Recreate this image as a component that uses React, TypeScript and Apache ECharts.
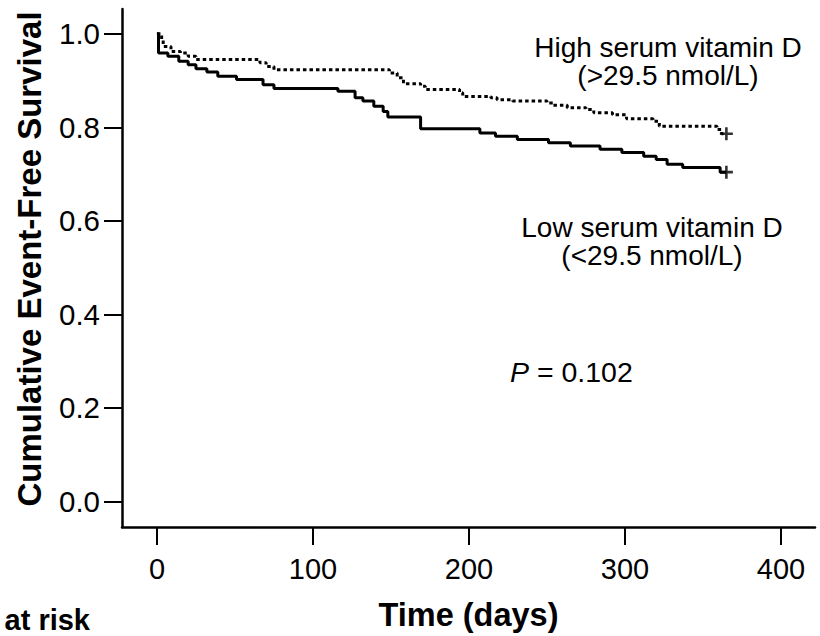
import React, { useEffect, useRef } from 'react';
import * as echarts from 'echarts';

// Kaplan-Meier step data (time in days, cumulative event-free survival)
const lowTimes = [0, 1, 7, 14, 20, 25, 32, 39, 51, 68, 75, 116, 127, 132, 139, 145, 148, 169, 207, 217, 231, 251, 265, 284, 298, 312, 320, 327, 337, 361, 365];
const lowSurvival = [1.0, 0.959, 0.952, 0.941, 0.934, 0.925, 0.918, 0.909, 0.902, 0.891, 0.883, 0.877, 0.863, 0.856, 0.845, 0.834, 0.822, 0.797, 0.788, 0.781, 0.774, 0.767, 0.76, 0.753, 0.746, 0.738, 0.731, 0.721, 0.714, 0.704, 0.704];

const highTimes = [0, 3, 4, 9, 15, 20, 25, 66, 70, 75, 149, 154, 158, 169, 172, 194, 196, 214, 218, 228, 250, 254, 263, 275, 280, 292, 301, 318, 322, 359, 362, 365];
const highSurvival = [1.0, 0.987, 0.973, 0.962, 0.959, 0.952, 0.945, 0.938, 0.93, 0.923, 0.916, 0.906, 0.893, 0.888, 0.881, 0.874, 0.866, 0.863, 0.859, 0.856, 0.852, 0.847, 0.842, 0.838, 0.831, 0.827, 0.818, 0.813, 0.802, 0.795, 0.786, 0.786];

const censorTimes = [365, 365];
const censorSurvival = [0.704, 0.786];

const xTicks = [0, 100, 200, 300, 400];
const yTicks = [0, 0.2, 0.4, 0.6, 0.8, 1.0];

const FONT = '"Liberation Sans", Arial, Helvetica, sans-serif';
const PLUS = 'path://M4,0H6V4H10V6H6V10H4V6H0V4H4Z';

export default function App() {
  const ref = useRef<HTMLDivElement>(null);
  useEffect(() => {
    if (!ref.current) return;
    const chart = echarts.init(ref.current, undefined, { renderer: 'svg' });
    const low = lowTimes.map((t, i) => [t, lowSurvival[i]]);
    const high = highTimes.map((t, i) => [t, highSurvival[i]]);
    const censor = censorTimes.map((t, i) => [t, censorSurvival[i]]);
    chart.setOption({
      animation: false,
      backgroundColor: '#fff',
      grid: { left: 122, right: 5, top: 9, bottom: 107 },
      xAxis: {
        type: 'value',
        min: -22.4,
        max: 421.8,
        axisLine: { onZero: false, lineStyle: { color: '#000', width: 2.5 } },
        axisTick: { show: true, customValues: xTicks, length: 18, lineStyle: { color: '#000', width: 2 } },
        axisLabel: { customValues: xTicks, margin: 27, color: '#000', fontSize: 29, fontFamily: FONT },
        splitLine: { show: false },
        name: 'Time (days)',
        nameLocation: 'middle',
        nameGap: 71,
        nameTextStyle: { fontWeight: 'bold', fontSize: 32.5, color: '#000', fontFamily: FONT },
      },
      yAxis: {
        type: 'value',
        min: -0.055,
        max: 1.053,
        axisLine: { onZero: false, lineStyle: { color: '#000', width: 2.5 } },
        axisTick: { show: true, customValues: yTicks, length: 18, lineStyle: { color: '#000', width: 2 } },
        axisLabel: {
          customValues: yTicks,
          margin: 22,
          color: '#000',
          fontSize: 29.5,
          fontFamily: FONT,
          formatter: (v: number) => v.toFixed(1),
        },
        splitLine: { show: false },
        name: 'Cumulative Event-Free Survival',
        nameLocation: 'middle',
        nameGap: 76,
        nameRotate: 90,
        nameTextStyle: {
          fontWeight: 'bold',
          fontSize: 33,
          color: '#000',
          fontFamily: FONT,
          padding: [0, 0, 0, 18],
        },
      },
      series: [
        {
          name: 'Low serum vitamin D',
          type: 'line',
          step: 'end',
          symbol: 'none',
          data: low,
          lineStyle: { color: '#000', width: 3, type: 'solid' },
        },
        {
          name: 'High serum vitamin D',
          type: 'line',
          step: 'end',
          symbol: 'none',
          data: high,
          lineStyle: { color: '#000', width: 3, type: [3.5, 3] },
        },
        {
          name: 'Censored',
          type: 'scatter',
          symbol: PLUS,
          symbolSize: 13,
          itemStyle: { color: '#000' },
          data: censor,
        },
      ],
      graphic: [
        {
          type: 'text',
          x: 668,
          y: 33,
          style: {
            text: 'High serum vitamin D\n(>29.5 nmol/L)',
            fontSize: 28,
            fontFamily: FONT,
            lineHeight: 28,
            fill: '#000',
            align: 'center',
            verticalAlign: 'top',
          },
        },
        {
          type: 'text',
          x: 652,
          y: 213,
          style: {
            text: 'Low serum vitamin D\n(<29.5 nmol/L)',
            fontSize: 28,
            fontFamily: FONT,
            lineHeight: 28,
            fill: '#000',
            align: 'center',
            verticalAlign: 'top',
          },
        },
        {
          type: 'text',
          x: 510,
          y: 358,
          style: {
            text: '{i|P} = 0.102',
            fontSize: 28.5,
            fontFamily: FONT,
            lineHeight: 28,
            fill: '#000',
            align: 'left',
            verticalAlign: 'top',
            rich: { i: { fontStyle: 'italic', fontSize: 28.5, fontFamily: FONT, fill: '#000' } },
          },
        },
        {
          type: 'text',
          x: 90,
          y: 605,
          style: {
            text: 'at risk',
            fontSize: 29,
            fontWeight: 'bold',
            fontFamily: FONT,
            lineHeight: 29,
            fill: '#000',
            align: 'right',
            verticalAlign: 'top',
          },
        },
      ],
    });
    return () => chart.dispose();
  }, []);
  return (
    <div
      ref={ref}
      style={{ position: 'absolute', left: 0, top: 0, width: 820, height: 636 }}
    />
  );
}
